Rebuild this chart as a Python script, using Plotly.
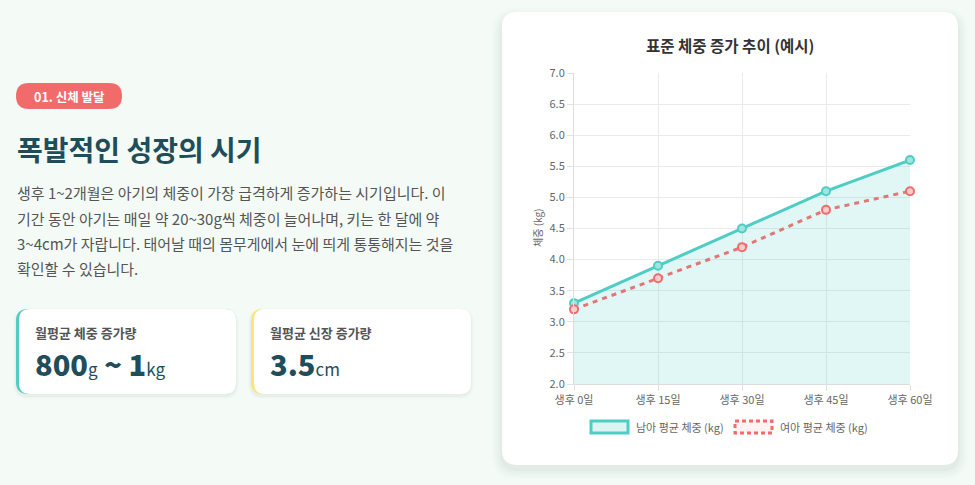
import plotly.graph_objects as go

# ---------------- data ----------------
days = ["생후 0일", "생후 15일", "생후 30일", "생후 45일", "생후 60일"]
boy_weight = [3.3, 3.9, 4.5, 5.1, 5.6]
girl_weight = [3.2, 3.7, 4.2, 4.8, 5.1]
series_names = ["남아 평균 체중 (kg)", "여아 평균 체중 (kg)"]
chart_title = "표준 체중 증가 추이 (예시)"
y_title = "체중 (kg)"

badge_text = "01. 신체 발달"
headline = "폭발적인 성장의 시기"
paragraph_lines = [
    "생후 1~2개월은 아기의 체중이 가장 급격하게 증가하는 시기입니다. 이",
    "기간 동안 아기는 매일 약 20~30g씩 체중이 늘어나며, 키는 한 달에 약",
    "3~4cm가 자랍니다. 태어날 때의 몸무게에서 눈에 띄게 통통해지는 것을",
    "확인할 수 있습니다.",
]
stat_labels = ["월평균 체중 증가량", "월평균 신장 증가량"]
stat_values = [[("800", "g"), (" ~ 1", "kg")], [("3.5", "cm")]]

# ---------------- style ----------------
W, H = 975, 485
FONT = "Noto Sans CJK KR, Noto Sans KR, Noto Sans, sans-serif"
BG = "#F4FBF6"
TEAL = "#4ECDC4"
RED_LINE = "#E27676"
RED = "#F26B6B"
DARK = "#1F4E5A"
GREY = "#555555"
TICK = "#666666"


def X(px):
    return px / W


def Y(py):
    return 1 - py / H


def rrect(x0, y0, x1, y1, r):
    return (f"M{X(x0 + r)},{Y(y0)} L{X(x1 - r)},{Y(y0)} Q{X(x1)},{Y(y0)} {X(x1)},{Y(y0 + r)} "
            f"L{X(x1)},{Y(y1 - r)} Q{X(x1)},{Y(y1)} {X(x1 - r)},{Y(y1)} "
            f"L{X(x0 + r)},{Y(y1)} Q{X(x0)},{Y(y1)} {X(x0)},{Y(y1 - r)} "
            f"L{X(x0)},{Y(y0 + r)} Q{X(x0)},{Y(y0)} {X(x0 + r)},{Y(y0)} Z")


shapes = []
annotations = []


def add_rr(x0, y0, x1, y1, r, fill):
    shapes.append(dict(type="path", xref="paper", yref="paper", layer="below",
                       path=rrect(x0, y0, x1, y1, r), fillcolor=fill,
                       line=dict(width=0)))


# main chart card shadow + card
for i, a in enumerate([0.012, 0.014, 0.016, 0.02, 0.025]):
    g = 10 - 2 * i
    add_rr(502 - g, 12 - g + 6, 958 + g, 465 + g + 4, 15 + g, f"rgba(40,90,60,{a})")
add_rr(502, 12, 958, 465, 15, "#FFFFFF")

# stat cards
card_x = [(16, 236), (251, 471)]
border_cols = [TEAL, "#FFE27A"]
for (x0, x1), bc in zip(card_x, border_cols):
    for i, a in enumerate([0.015, 0.02, 0.03]):
        g = 3 - i
        add_rr(x0 - g, 309 - g + 2, x1 + g, 394 + g + 2, 12 + g, f"rgba(40,90,60,{a})")
    add_rr(x0, 309, x1, 394, 12, bc)
    add_rr(x0 + 3, 309, x1, 394, 11, "#FFFFFF")

# badge
add_rr(16, 83, 122, 109, 13, RED)
annotations.append(dict(x=X(69), y=Y(96.5), xref="paper", yref="paper", showarrow=False,
                        text=f"<b>{badge_text}</b>", font=dict(family=FONT, size=12.5, color="white"),
                        xanchor="center", yanchor="middle"))

# headline
annotations.append(dict(x=X(15), y=Y(149), xref="paper", yref="paper", showarrow=False,
                        text=headline, font=dict(family=FONT, size=28, color=DARK, weight=700),
                        xanchor="left", yanchor="middle"))

# paragraph
for i, line in enumerate(paragraph_lines):
    annotations.append(dict(x=X(15), y=Y(193 + 25.3 * i), xref="paper", yref="paper", showarrow=False,
                            text=line, font=dict(family=FONT, size=15, color=GREY),
                            xanchor="left", yanchor="middle"))

# stat labels/values
for (x0, x1), lab, val in zip(card_x, stat_labels, stat_values):
    annotations.append(dict(x=X(x0 + 17), y=Y(332.5), xref="paper", yref="paper", showarrow=False,
                            text=lab, font=dict(family=FONT, size=13, color=GREY, weight=700),
                            xanchor="left", yanchor="middle"))
    txt = "".join(f"{n}<span style='font-size:17px;font-weight:400'>{u}</span>" for n, u in val)
    annotations.append(dict(x=X(x0 + 17), y=Y(362.5), xref="paper", yref="paper", showarrow=False,
                            text=txt, font=dict(family=FONT, size=29, color=DARK, weight=800),
                            xanchor="left", yanchor="middle"))

# chart title
annotations.append(dict(x=X(730), y=Y(45), xref="paper", yref="paper", showarrow=False,
                        text=f"<b>{chart_title}</b>", font=dict(family=FONT, size=15.5, color="#333333"),
                        xanchor="center", yanchor="middle"))
# y title
annotations.append(dict(x=X(537), y=Y(228), xref="paper", yref="paper", showarrow=False,
                        text=y_title, textangle=-90, font=dict(family=FONT, size=10, color=TICK),
                        xanchor="center", yanchor="middle"))

# legend (manual)
legend_items = [
    (591, 628, 634, series_names[0], TEAL, "rgba(78,205,196,0.2)", "solid"),
    (735, 772, 778, series_names[1], RED, "rgba(255,107,107,0.08)", "4px,3px"),
]
for bx0, bx1, tx, name, col, fill, dash in legend_items:
    shapes.append(dict(type="rect", xref="paper", yref="paper", layer="above",
                       x0=X(bx0), x1=X(bx1), y0=Y(421), y1=Y(433), fillcolor=fill,
                       line=dict(color=col, width=3, dash=dash)))
    annotations.append(dict(x=X(tx), y=Y(427), xref="paper", yref="paper", showarrow=False,
                            text=name, font=dict(family=FONT, size=11, color=TICK),
                            xanchor="left", yanchor="middle"))

# ---------------- traces ----------------
fig = go.Figure()
fig.add_trace(go.Scatter(
    x=days, y=boy_weight, name=series_names[0], mode="lines+markers",
    fill="tozeroy", fillcolor="rgba(78,205,196,0.17)",
    line=dict(color=TEAL, width=3),
    marker=dict(size=8, color="rgba(160,228,223,1)", line=dict(color=TEAL, width=2)),
    hoverinfo="x+y", cliponaxis=False,
))
fig.add_trace(go.Scatter(
    x=days, y=girl_weight, name=series_names[1], mode="lines+markers",
    line=dict(color=RED_LINE, width=3, dash="5px,5px"),
    marker=dict(size=8, color="rgba(250,205,205,1)", line=dict(color=RED, width=2)),
    hoverinfo="x+y", cliponaxis=False,
))

axis_common = dict(showgrid=True, gridcolor="#EAEAEA", gridwidth=1,
                   showline=True, linecolor="#DDDDDD", linewidth=1,
                   ticks="outside", ticklen=6, tickcolor="#E2E2E2",
                   tickfont=dict(family=FONT, size=11, color=TICK),
                   zeroline=False, fixedrange=True, automargin=False)

fig.update_layout(
    width=W, height=H, margin=dict(l=0, r=0, t=0, b=0, pad=0), autosize=False,
    paper_bgcolor=BG, plot_bgcolor="rgba(0,0,0,0)",
    showlegend=False, shapes=shapes, annotations=annotations,
    font=dict(family=FONT),
    xaxis=dict(domain=[X(574), X(910)], type="category", range=[0, 4], **axis_common),
    yaxis=dict(domain=[Y(384), Y(73)], range=[2, 7], dtick=0.5, tickformat=".1f", **axis_common),
)

fig.write_html("out.html", config={"displayModeBar": False},
               post_script="document.body.style.margin='0';document.documentElement.style.overflow='hidden';")
